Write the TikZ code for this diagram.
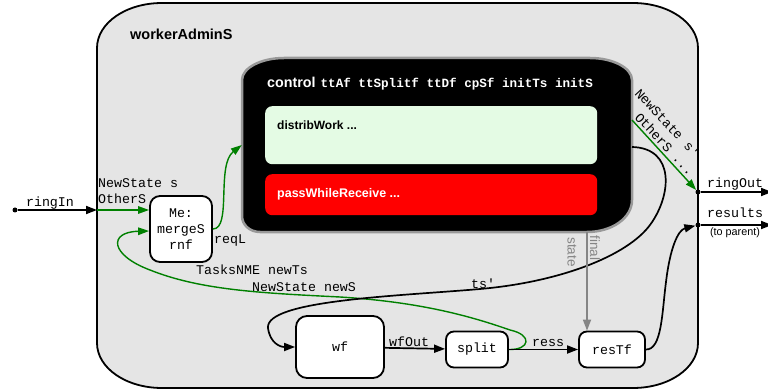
\documentclass[tikz,border=0pt]{standalone}
\usepackage{fontspec}
\setmainfont{Liberation Sans}
\setmonofont{Liberation Mono}
\usetikzlibrary{arrows.meta}
\definecolor{flowgreen}{HTML}{008000}
\definecolor{panelgray}{HTML}{E5E5E5}
\definecolor{workgreen}{HTML}{E4FBE4}
\definecolor{passred}{HTML}{FF0000}
\definecolor{stategray}{HTML}{858585}
\newcommand{\monotext}{\ttfamily\fontsize{13.3}{16}\selectfont}
\begin{document}
\begin{tikzpicture}[x=1pt,y=-1pt,
  flow/.style={line width=1.7pt, -{Triangle[length=11pt,width=8pt]}},
  gflow/.style={line width=1.4pt, draw=flowgreen, -{Triangle[length=11pt,width=7.5pt]}},
  sflow/.style={line width=1.7pt, draw=stategray, -{Triangle[length=11pt,width=8pt]}},
  box/.style={draw, line width=1.8pt, fill=white, rounded corners=8pt,
    font=\monotext, align=center, inner sep=0pt},
  lbl/.style={font=\monotext, inner sep=0pt, anchor=base west},
  port/.style={circle, fill, inner sep=0pt, minimum size=5pt},
  statelbl/.style={font=\fontsize{13.5}{16}\selectfont, text=stategray, inner sep=0pt, rotate=-90},
]
\useasboundingbox (0,0) rectangle (768,390);

% component frame
\draw[line width=1.8pt, fill=panelgray]
  (97,48) .. controls (97,23) and (126,3) .. (162,3) -- (633,3)
  .. controls (669,3) and (698,23) .. (698,48) -- (698,343)
  .. controls (698,368) and (669,388) .. (633,388) -- (162,388)
  .. controls (126,388) and (97,368) .. (97,343) -- cycle;
\node[anchor=base west, inner sep=0pt, font=\bfseries\fontsize{14.5}{17}\selectfont] (title) at (130,40) {workerAdminS};

% control block
\draw[line width=2.5pt, draw=black!40, fill=black]
  (242,80) .. controls (242,68) and (261,58) .. (284,58) -- (590,58)
  .. controls (613,58) and (632,68) .. (632,80) -- (632,200)
  .. controls (632,218) and (612,232) .. (587,232) -- (260,232)
  .. controls (250,232) and (242,225) .. (242,216) -- cycle;
\node[minimum width=390pt, minimum height=174pt, inner sep=0pt] (control) at (437,145) {};
\node[anchor=base west, inner sep=0pt, text=white] (ctitle) at (267,88)
  {{\bfseries\fontsize{14.3}{16}\selectfont control}\hspace{5pt}{\ttfamily\bfseries\fontsize{12.6}{15}\selectfont ttAf ttSplitf ttDf cpSf initTs initS}};
\node[fill=workgreen, rounded corners=7pt, minimum width=332pt, minimum height=58pt, anchor=north west, inner sep=0pt] (distrib) at (265,106) {};
\node[anchor=base west, inner sep=0pt, font=\bfseries\fontsize{12}{14}\selectfont] (distribtext) at (277,130) {distribWork ...};
\node[fill=passred, rounded corners=7pt, minimum width=332pt, minimum height=41pt, anchor=north west, inner sep=0pt] (pass) at (265,174) {};
\node[anchor=base west, inner sep=0pt, text=white, font=\bfseries\fontsize{12.5}{14}\selectfont] (passtext) at (277,197) {passWhileReceive ...};

% worker boxes
\node[box, minimum width=62pt, minimum height=66pt, rounded corners=10pt] (me) at (181,229) {Me:\\mergeS\\rnf};
\node[box, minimum width=88pt, minimum height=62pt, rounded corners=11pt] (wf) at (340,347) {wf};
\node[box, minimum width=62pt, minimum height=36pt] (split) at (477,349.5) {split};
\node[box, minimum width=66pt, minimum height=36pt] (restf) at (612,349.5) {resTf};

% ports
\node[port] (indot) at (15,210) {};
\coordinate (inport) at (97,210);
\node[port] (outdot) at (698,192) {};
\node[port] (resdot) at (698,225) {};
\coordinate (ringoutend) at (772,192);
\coordinate (resultsend) at (772,225);
\coordinate (ringoutstart) at (632,120);
\coordinate (tsstart) at (632,147);
\coordinate (finaltop) at (587,232);

% ring input
\draw[flow] (indot) -- (inport);
\node[lbl, anchor=base] (ringinlbl) at (50,207) {ringIn};
\draw[gflow] (inport) -- (inport -| me.west);
\node[lbl] (newstatelbl) at (98,188) {NewState s};
\node[lbl] (otherslbl) at (98,204) {OtherS};

% request line into control
\draw[gflow] (me.east) .. controls (232,229) and (216,165) .. (control.west);
\node[lbl] (reqllbl) at (214,243) {reqL};

% new tasks and state fed back to the merger
\draw[gflow] (split.east) .. controls (530,350) and (533,335) .. (510,330)
  .. controls (470,316) and (420,302) .. (340,297)
  .. controls (260,293) and (200,290) .. (150,270)
  .. controls (110,255) and (108,232) .. ([yshift=-2pt]me.west);
\node[lbl] (taskslbl) at (196,274) {TasksNME newTs};
\node[lbl] (newslbl) at (252,291) {NewState newS};

% tasks from control to the worker function
\draw[flow] (tsstart) .. controls (675,148) and (672,195) .. (650,225)
  .. controls (627,256) and (560,282) .. (480,289)
  .. controls (400,296) and (265,300) .. (268,328)
  .. controls (270,343) and (280,347) .. (wf.west);
\node[lbl] (tslbl) at (471,288) {ts'};

% worker pipeline
\draw[flow] (wf) -- (split);
\node[lbl] (wfoutlbl) at (389,346) {wfOut};
\draw[flow] (split) -- (restf);
\node[lbl] (resslbl) at (532,346) {ress};

% final state
\draw[sflow] (finaltop) -- (finaltop |- restf.north);
\node[statelbl] (finallbl) at (595,248) {final};
\node[statelbl] (statelbl) at (572,252) {state};

% results to parent
\draw[flow] (restf.east) .. controls (662,350) and (662,312) .. (666,282)
  .. controls (670,248) and (678,230) .. (resdot);
\draw[flow] (resdot) -- (resultsend);
\node[lbl] (resultslbl) at (707,218) {results};
\node[inner sep=0pt, anchor=base, font=\fontsize{10.8}{13}\selectfont] (parentlbl) at (735,235) {(to parent)};

% ring output
\draw[gflow] (ringoutstart) -- (outdot);
\node[lbl, rotate=-47] (ringoutlbla) at (634,94) {NewState s'};
\node[lbl, rotate=-47] (ringoutlblb) at (634,118) {OtherS ...};
\draw[flow] (outdot) -- (ringoutend);
\node[lbl] (ringoutlbl) at (707,188) {ringOut};
\end{tikzpicture}
\end{document}
